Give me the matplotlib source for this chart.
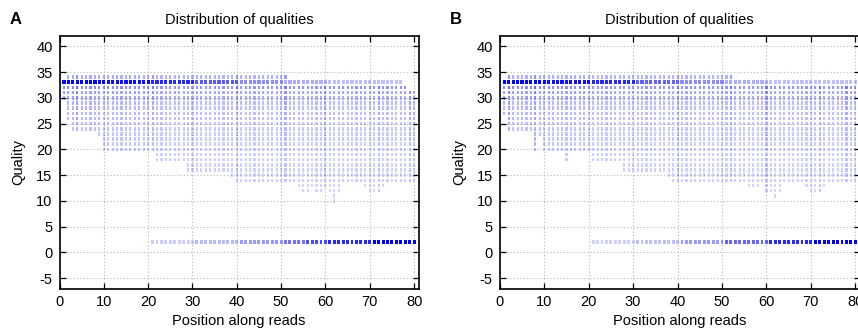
import numpy as np
import matplotlib.pyplot as plt

plt.rcParams['font.family'] = ['Liberation Sans', 'DejaVu Sans']
plt.rcParams['font.size'] = 10.5
plt.rcParams['axes.unicode_minus'] = False

positions = list(range(1, 81))

# panel A: highest / lowest quality present at each read position
A_qmax = [33] + [34] * 50 + [33] * 26 + [32] + [31] * 2
A_qmin = ([30, 26] + [24] * 6 + [23] + [20] * 12 + [18] * 7 + [16] * 10 + [15] + [14] * 14
          + [13, 12, 12, 13, 12, 12, 13, 12, 10, 12] + [14] * 5 + [13, 12, 12, 12, 13] + [14] * 7)
# panel B
B_qmax = [33] + [34] * 51 + [33] * 28
B_qmin = ([27] + [24] * 6 + [20, 23] + [20] * 5 + [18] + [20] * 5 + [18] * 7 + [16] * 10 + [15]
          + [14] * 17 + [13] * 3 + [14, 12, 12, 11, 12] + [14] * 5 + [13, 12, 12, 12, 13] + [14] * 7)

# shade of the busy Q33 row along the read
A_q33 = [1.0] * 10 + [0.95] * 10 + [0.85] * 10 + [0.65] * 10 + [0.45] * 10 + [0.32] * 10 + [0.25] * 20
B_q33 = [1.0] * 10 + [0.95] * 10 + [0.85] * 10 + [0.62] * 10 + [0.45] * 10 + [0.32] * 10 + [0.25] * 20
# shade of the Q2 row (trimmed bases), starts at position 21
A_q2 = [0.0] * 20 + [0.2] * 10 + [0.28] * 10 + [0.4] * 10 + [0.55] * 5 + [0.7] * 5 + [0.85] * 10 + [1.0] * 10
B_q2 = [0.0] * 20 + [0.18] * 10 + [0.25] * 10 + [0.4] * 10 + [0.6] * 10 + [0.85] * 10 + [1.0] * 10

# shade of the other quality rows
row_shade = {34: 0.3, 32: 0.42, 31: 0.34, 30: 0.32, 29: 0.27, 28: 0.26, 27: 0.25, 26: 0.25,
             25: 0.22, 24: 0.22, 23: 0.21, 22: 0.21, 21: 0.2, 20: 0.2, 19: 0.19, 18: 0.19,
             17: 0.19, 16: 0.19, 15: 0.18, 14: 0.18, 13: 0.17, 12: 0.17, 11: 0.17, 10: 0.17}
# columns that look darker than their neighbours
A_dark_cols = [4, 21, 40, 51, 60, 72, 79]
B_dark_cols = [2, 8, 40, 52, 60, 72, 78]

yticks = [-5, 0, 5, 10, 15, 20, 25, 30, 35, 40]
xticks = [0, 10, 20, 30, 40, 50, 60, 70, 80]

W, H = 858, 330
fig = plt.figure(figsize=(W / 100, H / 100), dpi=100)

dash = [(-0.6, -1), (0.6, -1), (0.6, 1), (-0.6, 1), (-0.6, -1)]
blob = [(-0.8, -1), (0.8, -1), (0.8, 1), (-0.8, 1), (-0.8, -1)]


def panel(left, width, letter, qmin, qmax, q33, q2, dark_cols):
    ax = fig.add_axes([left / W, 1 - 288.5 / H, width / W, 252.5 / H])
    xs, ys, cs = [], [], []
    tx, tc = [], []
    for i, p in enumerate(positions):
        boost = 1.3 if p in dark_cols else 1.0
        if p <= 20:
            boost *= 1.1
        for q in range(qmin[i], qmax[i] + 1):
            if q == 33:
                tx.append(p)
                tc.append((0, 0, 1, q33[i]))
                continue
            xs.append(p)
            ys.append(q)
            cs.append((0, 0, 1, min(1.0, row_shade[q] * boost)))
    ax.scatter(xs, ys, s=6.5, marker=dash, c=cs, linewidths=0, zorder=3)
    ax.scatter(tx, [33] * len(tx), s=8, marker=blob, c=tc, linewidths=0, zorder=3)

    px = [p for i, p in enumerate(positions) if q2[i] > 0]
    pc = [(0, 0, 1, q2[i]) for i in range(80) if q2[i] > 0]
    ax.scatter(px, [2] * len(px), s=7, marker=blob, c=pc, linewidths=0, zorder=3)

    ax.set_xlim(0, 81)
    ax.set_ylim(-7, 42)
    ax.set_xticks(xticks)
    ax.set_yticks(yticks)
    ax.grid(True, color='#b8b8b8', linestyle=(0, (1, 2)), linewidth=0.8, zorder=0)
    ax.set_axisbelow(True)
    ax.tick_params(direction='in', top=True, right=True, length=4, width=0.9,
                   labelsize=10.5, pad=5)
    for s in ax.spines.values():
        s.set_linewidth(1.2)

    cx = (left + width / 2) / W
    fig.text(cx, 1 - 20 / H, 'Distribution of qualities', ha='center', va='center', fontsize=10.5)
    fig.text(cx, 1 - 321.5 / H, 'Position along reads', ha='center', va='center', fontsize=10.5)
    fig.text((left - 41) / W, 1 - 162 / H, 'Quality', rotation=90, ha='center', va='center',
             fontsize=10.5)
    fig.text((left - 44) / W, 1 - 19 / H, letter, ha='center', va='center', fontsize=12,
             fontweight='bold')
    return ax


panel(59.5, 359, 'A', A_qmin, A_qmax, A_q33, A_q2, A_dark_cols)
panel(499.8, 360, 'B', B_qmin, B_qmax, B_q33, B_q2, B_dark_cols)

fig.savefig('out.png', dpi=100)
